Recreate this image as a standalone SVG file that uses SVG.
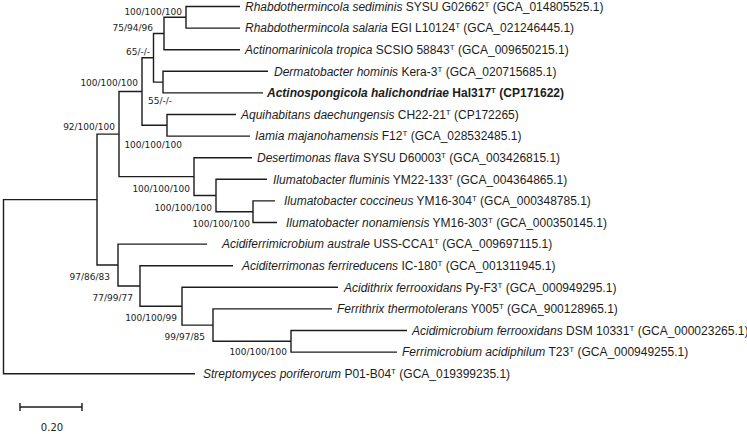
<svg xmlns="http://www.w3.org/2000/svg" width="747" height="434" viewBox="0 0 747 434">
<style>
.br{fill:none;stroke:#1c1c1c;stroke-width:1.4;stroke-linejoin:miter}
.tx{font-family:"Liberation Sans",Arial,sans-serif;font-size:12px;fill:#1c1c1c}
.it{font-style:italic}
.bd{font-weight:bold}
.sp{font-size:8px}
.bs{font-family:"DejaVu Sans",Verdana,sans-serif;font-size:9px;fill:#222}
.sc{font-family:"DejaVu Sans",Verdana,sans-serif;font-size:10px;fill:#222}
</style>
<rect width="747" height="434" fill="#fff"/>
<g id="connectors">
<path class="br" d="M97,199.6 H3.5 V373.7 H195"/>
<path class="br" d="M119,134.1 H97 V265 H118"/>
<path class="br" d="M142,91.55 H119 V176.6 H194"/>
<path class="br" d="M153.5,57.8 H142 V125.3 H167"/>
<path class="br" d="M164,33.5 H153.5 V82.1 H163"/>
<path class="br" d="M186,17.3 H164 V49.7 H240"/>
<path class="br" d="M240,6.5 H186 V28.1 H240"/>
<path class="br" d="M268,71.3 H163 V92.9 H263"/>
<path class="br" d="M236,114.5 H167 V136.1 H250"/>
<path class="br" d="M252,157.7 H194 V195.5 H216"/>
<path class="br" d="M267,179.3 H216 V211.7 H253"/>
<path class="br" d="M275,200.9 H253 V222.5 H277"/>
<path class="br" d="M207,244.1 H118 V285.95 H140"/>
<path class="br" d="M233,265.7 H140 V306.2 H182"/>
<path class="br" d="M338,287.3 H182 V325.1 H213"/>
<path class="br" d="M332,308.9 H213 V341.3 H291"/>
<path class="br" d="M407,330.5 H291 V352.1 H397"/>
</g>
<g id="leaf-1"><text class="tx" x="245" y="10.8"><tspan class="it">Rhabdothermincola sediminis</tspan> SYSU G02662<tspan class="sp" dy="-4">T</tspan><tspan dy="4"> (GCA_014805525.1)</tspan></text></g>
<g id="leaf-2"><text class="tx" x="245" y="32.4"><tspan class="it">Rhabdothermincola salaria</tspan> EGI L10124<tspan class="sp" dy="-4">T</tspan><tspan dy="4"> (GCA_021246445.1)</tspan></text></g>
<g id="leaf-3"><text class="tx" x="245" y="54"><tspan class="it">Actinomarinicola tropica</tspan> SCSIO 58843<tspan class="sp" dy="-4">T</tspan><tspan dy="4"> (GCA_009650215.1)</tspan></text></g>
<g id="leaf-4"><text class="tx" x="274" y="75.6"><tspan class="it">Dermatobacter hominis</tspan> Kera-3<tspan class="sp" dy="-4">T</tspan><tspan dy="4"> (GCA_020715685.1)</tspan></text></g>
<g id="leaf-5"><text class="tx bd" x="267" y="97.2"><tspan class="it">Actinospongicola halichondriae</tspan> Hal317<tspan class="sp" dy="-4">T</tspan><tspan dy="4"> (CP171622)</tspan></text></g>
<g id="leaf-6"><text class="tx" x="241" y="118.8"><tspan class="it">Aquihabitans daechungensis</tspan> CH22-21<tspan class="sp" dy="-4">T</tspan><tspan dy="4"> (CP172265)</tspan></text></g>
<g id="leaf-7"><text class="tx" x="255" y="140.4"><tspan class="it">Iamia majanohamensis</tspan> F12<tspan class="sp" dy="-4">T</tspan><tspan dy="4"> (GCA_028532485.1)</tspan></text></g>
<g id="leaf-8"><text class="tx" x="257" y="162"><tspan class="it">Desertimonas flava</tspan> SYSU D60003<tspan class="sp" dy="-4">T</tspan><tspan dy="4"> (GCA_003426815.1)</tspan></text></g>
<g id="leaf-9"><text class="tx" x="273" y="183.6"><tspan class="it">Ilumatobacter fluminis</tspan> YM22-133<tspan class="sp" dy="-4">T</tspan><tspan dy="4"> (GCA_004364865.1)</tspan></text></g>
<g id="leaf-10"><text class="tx" x="284" y="205.2"><tspan class="it">Ilumatobacter coccineus</tspan> YM16-304<tspan class="sp" dy="-4">T</tspan><tspan dy="4"> (GCA_000348785.1)</tspan></text></g>
<g id="leaf-11"><text class="tx" x="286" y="226.8"><tspan class="it">Ilumatobacter nonamiensis</tspan> YM16-303<tspan class="sp" dy="-4">T</tspan><tspan dy="4"> (GCA_000350145.1)</tspan></text></g>
<g id="leaf-12"><text class="tx" x="222" y="248.4"><tspan class="it">Acidiferrimicrobium australe</tspan> USS-CCA1<tspan class="sp" dy="-4">T</tspan><tspan dy="4"> (GCA_009697115.1)</tspan></text></g>
<g id="leaf-13"><text class="tx" x="242" y="270"><tspan class="it">Aciditerrimonas ferrireducens</tspan> IC-180<tspan class="sp" dy="-4">T</tspan><tspan dy="4"> (GCA_001311945.1)</tspan></text></g>
<g id="leaf-14"><text class="tx" x="344" y="291.6"><tspan class="it">Acidithrix ferrooxidans</tspan> Py-F3<tspan class="sp" dy="-4">T</tspan><tspan dy="4"> (GCA_000949295.1)</tspan></text></g>
<g id="leaf-15"><text class="tx" x="337" y="313.2"><tspan class="it">Ferrithrix thermotolerans</tspan> Y005<tspan class="sp" dy="-4">T</tspan><tspan dy="4"> (GCA_900128965.1)</tspan></text></g>
<g id="leaf-16"><text class="tx" x="412" y="334.8"><tspan class="it">Acidimicrobium ferrooxidans</tspan> DSM 10331<tspan class="sp" dy="-4">T</tspan><tspan dy="4"> (GCA_000023265.1)</tspan></text></g>
<g id="leaf-17"><text class="tx" x="402" y="356.4"><tspan class="it">Ferrimicrobium acidiphilum</tspan> T23<tspan class="sp" dy="-4">T</tspan><tspan dy="4"> (GCA_000949255.1)</tspan></text></g>
<g id="leaf-18"><text class="tx" x="203" y="378"><tspan class="it">Streptomyces poriferorum</tspan> P01-B04<tspan class="sp" dy="-4">T</tspan><tspan dy="4"> (GCA_019399235.1)</tspan></text></g>
<g id="support" text-anchor="end">
<text class="bs" x="182" y="14.5">100/100/100</text>
<text class="bs" x="153" y="31">75/94/96</text>
<text class="bs" x="150" y="54.5">65/-/-</text>
<text class="bs" x="138" y="86">100/100/100</text>
<text class="bs" x="172" y="104">55/-/-</text>
<text class="bs" x="115" y="130">92/100/100</text>
<text class="bs" x="182" y="148">100/100/100</text>
<text class="bs" x="190" y="192">100/100/100</text>
<text class="bs" x="212" y="211">100/100/100</text>
<text class="bs" x="250" y="227">100/100/100</text>
<text class="bs" x="110" y="280">97/86/83</text>
<text class="bs" x="133" y="301">77/99/77</text>
<text class="bs" x="177" y="321">100/100/99</text>
<text class="bs" x="205" y="340">99/97/85</text>
<text class="bs" x="287" y="355">100/100/100</text>
</g>
<g id="scale-bar">
<path class="br" d="M20,407 H82 M20,403 V411 M82,403 V411"/>
<text class="sc" x="52" y="431" text-anchor="middle">0.20</text>
</g>
</svg>
